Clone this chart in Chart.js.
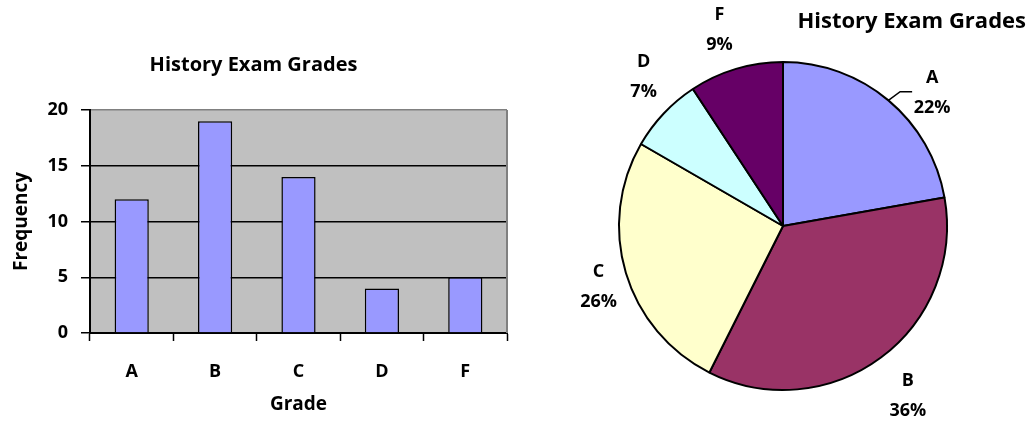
<!DOCTYPE html>
<html><head><meta charset="utf-8">
<script src="https://cdn.jsdelivr.net/npm/chart.js@4/dist/chart.umd.min.js"></script>
<style>
html,body{margin:0;padding:0;background:#fff;}
#wrap{position:relative;width:1027px;height:422px;overflow:hidden;}
#barBox{position:absolute;left:0;top:0;width:540px;height:422px;}
#pieBox{position:absolute;left:560px;top:0;width:467px;height:422px;}
</style></head><body>
<div id="wrap"><div id="barBox"><canvas id="bar"></canvas></div><div id="pieBox"><canvas id="pie"></canvas></div></div>
<script>
// ---- data ----
const chartTitle = 'History Exam Grades';
const grades = ['A', 'B', 'C', 'D', 'F'];
const frequency = [12, 19, 14, 4, 5];
const yTickValues = [0, 5, 10, 15, 20];
const piePercentLabels = ['22%', '36%', '26%', '7%', '9%'];
const xAxisTitle = 'Grade';
const yAxisTitle = 'Frequency';

// ---- styles ----
const FONT = "'Open Sans', 'DejaVu Sans', sans-serif";
const pieColors = ['#9999FF', '#993366', '#FFFFCC', '#CCFFFF', '#660066'];
Chart.defaults.font.family = FONT;
Chart.defaults.color = '#000';
const tickFont = {size: 18, weight: 'bold'};
const axisTitleFont = {size: 19, weight: 'bold'};
const barTitleFont = {size: 20, weight: 'bold'};

const plotBg = {
  id: 'plotBg',
  beforeDraw(chart, args, opts) {
    const {ctx, chartArea: a} = chart;
    ctx.save();
    ctx.fillStyle = opts.color;
    ctx.fillRect(a.left, a.top, a.width, a.height);
    ctx.restore();
  },
  beforeDatasetsDraw(chart, args, opts) {
    const {ctx, chartArea: a} = chart;
    ctx.save();
    ctx.strokeStyle = opts.border;
    ctx.lineWidth = 2;
    ctx.beginPath();
    ctx.moveTo(a.right, a.top);
    ctx.lineTo(a.right, a.bottom);
    ctx.stroke();
    ctx.restore();
  }
};

new Chart(document.getElementById('bar'), {
  type: 'bar',
  data: {
    labels: grades,
    datasets: [{
      data: frequency,
      backgroundColor: '#9999FF',
      borderColor: '#000',
      borderWidth: 1.5,
      categoryPercentage: 1,
      barPercentage: 0.41
    }]
  },
  options: {
    responsive: true, maintainAspectRatio: false, animation: false,
    layout: {padding: {top: 0, right: 33, bottom: 0, left: 0}},
    plugins: {
      legend: {display: false},
      tooltip: {enabled: false},
      title: {display: true, text: chartTitle, font: barTitleFont, color: '#000', padding: {top: 53, bottom: 33}},
      plotBg: {color: '#C0C0C0', border: '#808080'}
    },
    scales: {
      x: {
        grid: {display: true, drawOnChartArea: false, drawTicks: true, tickLength: 8, tickColor: '#000', tickWidth: 1.5, offset: true},
        border: {display: true, color: '#000', width: 2},
        ticks: {font: tickFont, color: '#000', padding: 20},
        title: {display: true, text: xAxisTitle, font: axisTitleFont, color: '#000', padding: {top: 0, bottom: 6}},
        afterFit(s) { s.height = 89; }
      },
      y: {
        min: 0, max: 20,
        afterBuildTicks(s) { s.ticks = yTickValues.map(v => ({value: v})); },
        grid: {
          color: c => (c.tick && c.tick.value === 20) ? '#808080' : '#000',
          lineWidth: 1.5, tickLength: 9, tickColor: '#000', tickWidth: 1.5
        },
        border: {display: true, color: '#000', width: 2},
        ticks: {font: tickFont, color: '#000', padding: 13},
        title: {display: true, text: yAxisTitle, font: axisTitleFont, color: '#000', padding: {top: 10, bottom: 0}},
        afterFit(s) { s.width = 90; }
      }
    }
  },
  plugins: [plotBg]
});

const pieDecor = {
  id: 'pieDecor',
  afterDraw(chart, args, opts) {
    const {ctx} = chart;
    const meta = chart.getDatasetMeta(0);
    ctx.save();
    ctx.fillStyle = '#000';
    ctx.strokeStyle = '#000';
    ctx.lineWidth = 1.5;
    ctx.font = 'bold 18px ' + FONT;
    ctx.textAlign = 'center';
    ctx.textBaseline = 'middle';
    meta.data.forEach((arc, i) => {
      const mid = (arc.startAngle + arc.endAngle) / 2;
      const r = arc.outerRadius + opts.distance;
      const n = opts.nudge[i] || [0, 0];
      const x = arc.x + Math.cos(mid) * r + n[0];
      const y = arc.y + Math.sin(mid) * r + n[1];
      if (opts.leader[i]) {
        const ex = arc.x + Math.cos(mid) * arc.outerRadius;
        const ey = arc.y + Math.sin(mid) * arc.outerRadius;
        ctx.beginPath();
        ctx.moveTo(ex, ey);
        ctx.lineTo(x - 32, y - 1);
        ctx.lineTo(x - 20, y - 1);
        ctx.stroke();
      }
      ctx.fillText(grades[i], x, y - opts.lineGap / 2);
      ctx.fillText(piePercentLabels[i], x, y + opts.lineGap / 2);
    });
    ctx.font = 'bold 22px ' + FONT;
    ctx.textAlign = 'right';
    ctx.fillText(chartTitle, chart.width - 1, 22);
    ctx.restore();
  }
};

new Chart(document.getElementById('pie'), {
  type: 'pie',
  data: {
    labels: grades,
    datasets: [{
      data: frequency,
      backgroundColor: pieColors,
      borderColor: '#000',
      borderWidth: 2
    }]
  },
  options: {
    responsive: true, maintainAspectRatio: false, animation: false,
    radius: 164,
    layout: {padding: {left: 40, right: 61, top: 40, bottom: 10}},
    plugins: {
      legend: {display: false},
      tooltip: {enabled: false},
      title: {display: false},
      pieDecor: {
        distance: 40, lineGap: 30,
        nudge: {0: [18, 23], 1: [3, 6], 2: [11, 2], 3: [9, -9], 4: [-5, -1]},
        leader: {0: true}
      }
    }
  },
  plugins: [pieDecor]
});
</script>
</body></html>
